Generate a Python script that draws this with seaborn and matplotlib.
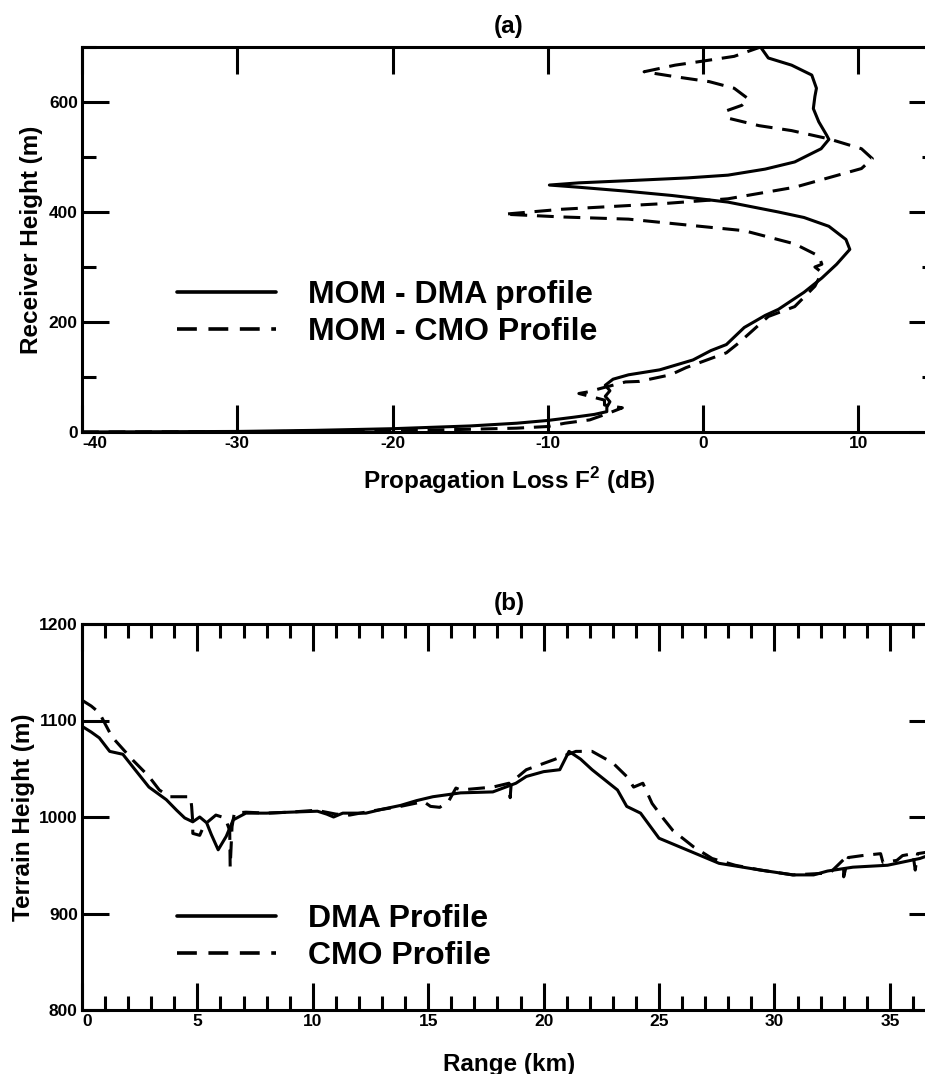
import matplotlib
matplotlib.use("Agg")
import matplotlib.pyplot as plt
from matplotlib.ticker import MultipleLocator
import pandas as pd
import seaborn as sns

# ---- (a) propagation loss versus receiver height ----
dma_loss = [-40, -35, -30, -25, -20, -15, -12, -10, -8.3, -7, -6.2, -6.2, -6.0, -6.3, -6.0,
            -6.3, -5.8, -4.8, -2.8, -0.65, 0.5, 1.5, 2.65, 4.0, 4.85, 6.5, 7.65, 8.6, 9.45,
            9.2, 8.1, 6.5, 4.85, 1.6, -2.0, -5.0, -8.0, -9.9, -8.0, -4.8, -1.0, 1.6, 4.0,
            5.9, 7.6, 8.1, 7.95, 7.45, 7.1, 7.2, 7.3, 7.0, 5.7, 4.2, 3.7]
dma_height = [0, 0.5, 1, 3, 6, 11, 16, 21, 27, 32, 37, 45, 55, 65, 75,
              85, 96, 104, 113, 131, 148, 159, 190, 212, 223, 254, 280, 305, 332,
              350, 374, 390, 400, 418, 430, 438, 445, 449, 453, 457, 462, 467, 478,
              491, 515, 532, 540, 564, 588, 610, 625, 649, 667, 680, 700]

cmo_loss = [-40, -30, -20, -15, -12, -10, -8.9, -7.3, -6.2, -5.2, -6.35, -6.35, -8.0, -7.4,
            -6.5, -5.0, -4.1, -2.1, -1.1, 1.5, 2.3, 4.2, 5.9, 7.2, 7.65, 7.2, 7.65, 7.45,
            5.9, 2.65, -0.55, -4.8, -9.1, -12.8, -9.1, -2.7, 1.6, 5.9, 10.2, 10.9, 10.2,
            8.1, 5.7, 3.6, 1.7, 1.5, 2.5, 2.9, 2.0, 0.4, -1.8, -3.8, -1.8, -0.1, 2.0, 3.7]
cmo_height = [0, 0.5, 2, 5, 7, 10, 16, 22, 33, 44, 49, 58, 70, 73,
              80, 91, 92, 104, 117, 144, 162, 210, 228, 265, 290, 300, 305, 320,
              342, 366, 375, 387, 391, 396, 405, 415, 424, 445, 479, 497, 515,
              533, 548, 557, 570, 584, 594, 606, 625, 637, 646, 655, 667, 674, 683, 700]

# ---- (b) terrain height versus range ----
dma_range = [0, 0.4, 0.75, 1.2, 1.77, 2.2, 2.9, 3.65, 4.1, 4.45, 4.8, 5.1, 5.4, 5.6, 5.9,
             6.25, 6.55, 7.1, 8.0, 9.0, 10.2, 10.6, 10.9, 11.3, 12.3, 13.0, 13.8, 14.5,
             15.2, 16.4, 17.8, 18.8, 19.25, 20.0, 20.7, 21.1, 21.6, 22.1, 23.2, 23.6,
             24.2, 25.0, 26.5, 27.6, 29.4, 30.8, 31.7, 32.3, 33.4, 34.9, 36.3, 37.0]
dma_terrain = [1094, 1088, 1082, 1068, 1065, 1052, 1031, 1018, 1007, 999, 995, 1000, 994,
               982, 966, 980, 997, 1004, 1004, 1005, 1006, 1003, 1000, 1004, 1004, 1008,
               1012, 1017, 1021, 1025, 1026, 1035, 1042, 1047, 1049, 1068, 1060, 1049,
               1028, 1011, 1004, 978, 963, 952, 945, 940, 940, 944, 948, 950, 957, 963]

cmo_range = [0, 0.4, 0.75, 1.3, 2.2, 2.9, 3.35, 3.8, 4.7, 4.75, 4.8, 4.8, 5.1, 5.3, 5.8,
             6.2, 6.4, 6.42, 6.5, 6.6, 7.1, 8.0, 9.0, 10.15, 11.0, 11.6, 12.5, 13.8,
             14.8, 15.1, 15.5, 15.9, 16.2, 16.4, 17.8, 18.5, 18.55, 18.6, 19.25, 20.4,
             21.4, 22.1, 23.0, 23.6, 23.9, 24.3, 24.7, 25.2, 25.6, 26.5, 27.3, 28.3,
             29.4, 30.8, 32.4, 33.0, 33.0, 33.2, 33.8, 34.6, 34.7, 35.3, 35.55, 36.0,
             36.1, 36.2, 37.0]
cmo_terrain = [1121, 1115, 1108, 1083, 1059, 1042, 1028, 1021, 1021, 1011, 994, 983, 981,
               992, 1002, 999, 986, 948, 990, 1004, 1005, 1004, 1005, 1007, 1003, 1002,
               1006, 1011, 1016, 1011, 1010, 1017, 1030, 1028, 1031, 1035, 1020, 1036,
               1049, 1059, 1068, 1068, 1056, 1042, 1031, 1035, 1014, 998, 986, 969, 957,
               950, 945, 940, 942, 956, 938, 958, 960, 962, 953, 955, 960, 962, 945, 962,
               965]

sns.set_theme(style="ticks")
plt.rcParams.update({
    "font.family": ["Liberation Sans", "DejaVu Sans"],
    "font.weight": "bold",
    "axes.labelweight": "bold",
    "axes.titleweight": "bold",
    "axes.unicode_minus": False,
    "mathtext.fontset": "custom",
    "mathtext.rm": "Liberation Sans:bold",
    "mathtext.bf": "Liberation Sans:bold",
    "text.color": "black",
    "axes.labelcolor": "black",
    "axes.edgecolor": "black",
    "axes.linewidth": 2.2,
    "xtick.color": "black",
    "ytick.color": "black",
    "xtick.labelcolor": "black",
    "ytick.labelcolor": "black",
})

fig = plt.figure(figsize=(9.25, 10.74), dpi=100)
W, H = 925.0, 1074.0
left, right = 82 / W, 936 / W
ax1 = fig.add_axes([left, 1 - 432 / H, right - left, (432 - 47) / H])
ax2 = fig.add_axes([left, 1 - 1010 / H, right - left, (1010 - 624) / H])

LW = 2.2
DASH = (0, (5.5, 3.2))

df_a_dma = pd.DataFrame({"loss": dma_loss, "height": dma_height})
df_a_cmo = pd.DataFrame({"loss": cmo_loss, "height": cmo_height})
sns.lineplot(data=df_a_dma, x="loss", y="height", sort=False, estimator=None,
             color="black", lw=LW, ax=ax1, label="MOM - DMA profile")
sns.lineplot(data=df_a_cmo, x="loss", y="height", sort=False, estimator=None,
             color="black", lw=LW, linestyle=DASH, ax=ax1, label="MOM - CMO Profile")

df_b_dma = pd.DataFrame({"range": dma_range, "terrain": dma_terrain})
df_b_cmo = pd.DataFrame({"range": cmo_range, "terrain": cmo_terrain})
sns.lineplot(data=df_b_dma, x="range", y="terrain", sort=False, estimator=None,
             color="black", lw=LW, ax=ax2, label="DMA Profile")
sns.lineplot(data=df_b_cmo, x="range", y="terrain", sort=False, estimator=None,
             color="black", lw=LW, linestyle=DASH, ax=ax2, label="CMO Profile")

# axis limits and ticks
ax1.set_xlim(-40, 15)
ax1.set_ylim(0, 700)
ax1.set_xticks([-40, -30, -20, -10, 0, 10])
ax1.set_yticks([0, 200, 400, 600])
ax1.yaxis.set_minor_locator(MultipleLocator(100))

ax2.set_xlim(0, 37)
ax2.set_ylim(800, 1200)
ax2.set_xticks([0, 5, 10, 15, 20, 25, 30, 35])
ax2.xaxis.set_minor_locator(MultipleLocator(1))
ax2.set_yticks([800, 900, 1000, 1100, 1200])

for ax in (ax1, ax2):
    for s in ax.spines.values():
        s.set_linewidth(LW)
        s.set_visible(True)
    ax.tick_params(which="major", direction="in", length=19.5, width=2.2,
                   top=True, right=True, labelsize=12.5, pad=3)
    ax.tick_params(which="minor", direction="in", length=10, width=2.2,
                   top=True, right=True)
ax1.tick_params(axis="x", which="minor", length=0)

for ax in (ax1, ax2):
    for lbl in ax.get_xticklabels() + ax.get_yticklabels():
        lbl.set_fontweight("bold")
        lbl.set_color("black")
    # the label at the left edge starts at the spine
    ax.get_xticklabels()[0].set_horizontalalignment("left")

# labels and panel titles
ax1.set_xlabel(r"Propagation Loss F$^{\bf 2}$ (dB)", fontsize=17.5, labelpad=10)
ax1.set_ylabel("Receiver Height (m)", fontsize=17.5, labelpad=4)
ax1.set_title("(a)", fontsize=17.5, pad=10)
ax2.set_xlabel("Range (km)", fontsize=17.5, labelpad=17)
ax2.set_ylabel("Terrain Height (m)", fontsize=17.5, labelpad=3)
ax2.set_title("(b)", fontsize=17.5, pad=10)

leg_kw = dict(frameon=False, fontsize=23, handlelength=3.1, handletextpad=1.0,
              labelspacing=0.22, borderpad=0, borderaxespad=0, loc="upper left")
leg1 = ax1.legend(bbox_to_anchor=(0.111, 0.395), **leg_kw)
leg2 = ax2.legend(bbox_to_anchor=(0.111, 0.275), **leg_kw)
for leg in (leg1, leg2):
    for t in leg.get_texts():
        t.set_fontweight("bold")
        t.set_color("black")
    for h in leg.get_lines():
        h.set_linewidth(2.6)

fig.savefig("out.png", dpi=100)
